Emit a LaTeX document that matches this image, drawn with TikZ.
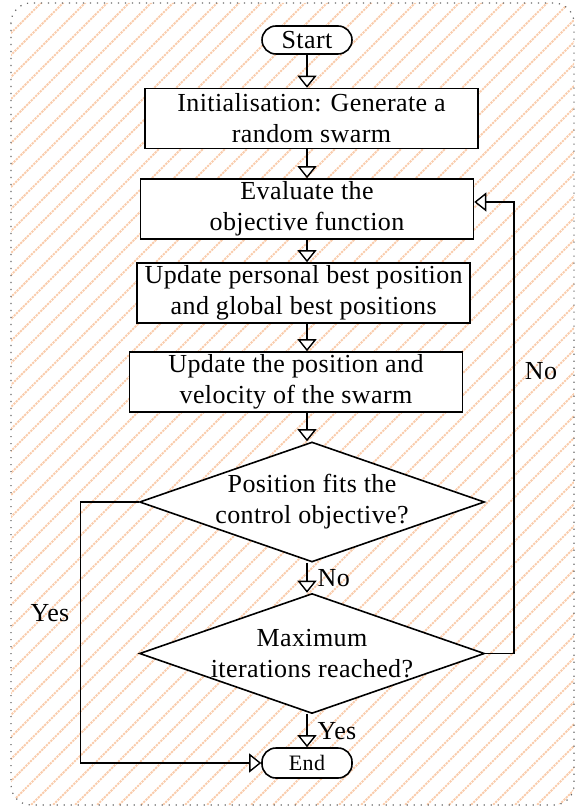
\documentclass[tikz,border=0pt]{standalone}
\usepackage{fontspec}
\setmainfont{Liberation Serif}[LetterSpace=1.5]
\usetikzlibrary{positioning}
\usetikzlibrary{calc}
\usetikzlibrary{shapes.geometric,arrows.meta}
\definecolor{hatchorange}{RGB}{249,204,172}

\begin{document}
\begin{tikzpicture}[x=0.5pt,y=-0.5pt]
\tikzstyle{terminal} =[rectangle,rounded corners=7pt,draw=black,line width=0.8pt,fill=white,minimum width=45pt,minimum height=14pt,inner ysep=1pt,font=\fontsize{13}{15.5}\selectfont]
\tikzstyle{process} =[rectangle,draw=black,line width=0.8pt,fill=white,minimum width=166.5pt,minimum height=30pt,inner sep=1pt,align=center,font=\fontsize{13}{15.5}\selectfont]
\tikzstyle{decision} =[diamond,aspect=2.875,draw=black,line width=0.8pt,fill=white,minimum width=172.5pt,minimum height=60pt,inner sep=-3pt,align=center,font=\fontsize{13}{15.5}\selectfont]
\tikzstyle{flow} =[draw,line width=0.7pt,-{Triangle[width=9.5pt,length=6pt,fill=white]}]
\tikzstyle{tag} =[inner sep=0pt,font=\fontsize{13}{15.5}\selectfont]
\useasboundingbox (0,0) rectangle (577,807);

% background
\begin{scope}
\clip[rounded corners=10pt] (11,3) rectangle (574,805);
\foreach \c in {0,22,...,1386}
  \draw[hatchorange,line width=1pt,dash pattern=on 1.1pt off 0.5pt] (\c,0) -- (0,\c);
\end{scope}
\draw[black!60,line width=0.6pt,dash pattern=on 0.6pt off 2.9pt,rounded corners=10pt] (11,3) rectangle (574,805);

\node[terminal](start) at (307,40) {Start};

\node[process](init) at ($(start)+(4.5,78.5)$) {Initialisation: Generate a\\random swarm};
\draw[flow] (start.south)--(start.south |- init.north);

\node[process](eval) at ($(start)+(0,169)$) {Evaluate the\\objective function};
\draw[flow] (start |- init.south)--(start |- eval.north);

\node[process](pbest) at ($(start)+(-3.3,253)$) {Update personal best position\\and global best positions};
\draw[flow] (start |- eval.south)--(start |- pbest.north);

\node[process](update) at ($(start)+(-11,342)$) {Update the position and\\velocity of the swarm};
\draw[flow] (start |- pbest.south)--(start |- update.north);

\node[decision](fits) at ($(start)+(5,462)$) {Position fits the\\control objective?};
\draw[flow] (start |- update.south)--(start |- fits.north);

\node[decision](maxit) at ($(start)+(5,613.5)$) {Maximum\\iterations reached?};
\draw[flow] (start |- fits.south)--(start |- maxit.north) node[tag,midway,right=5pt]{No};

\node[terminal,minimum height=15pt,font=\fontsize{11}{13}\selectfont](end) at ($(start)+(0,723)$) {End};
\draw[flow] (start |- maxit.south)--(end.north) node[tag,midway,right=5pt]{Yes};

% loops
\coordinate (yesbend) at ($(fits.west)+(-58.5,0)$);
\draw[flow] (fits.west)--(yesbend) |- (end.west);
\node[tag](yesleft) at (50,613) {Yes};

\coordinate (nobend) at ($(maxit.east)+(28.5,0)$);
\draw[flow] (maxit.east)--(nobend) |- ($(eval.east)+(0,-7)$);
\node[tag](noright) at (541,371) {No};
\end{tikzpicture}
\end{document}
